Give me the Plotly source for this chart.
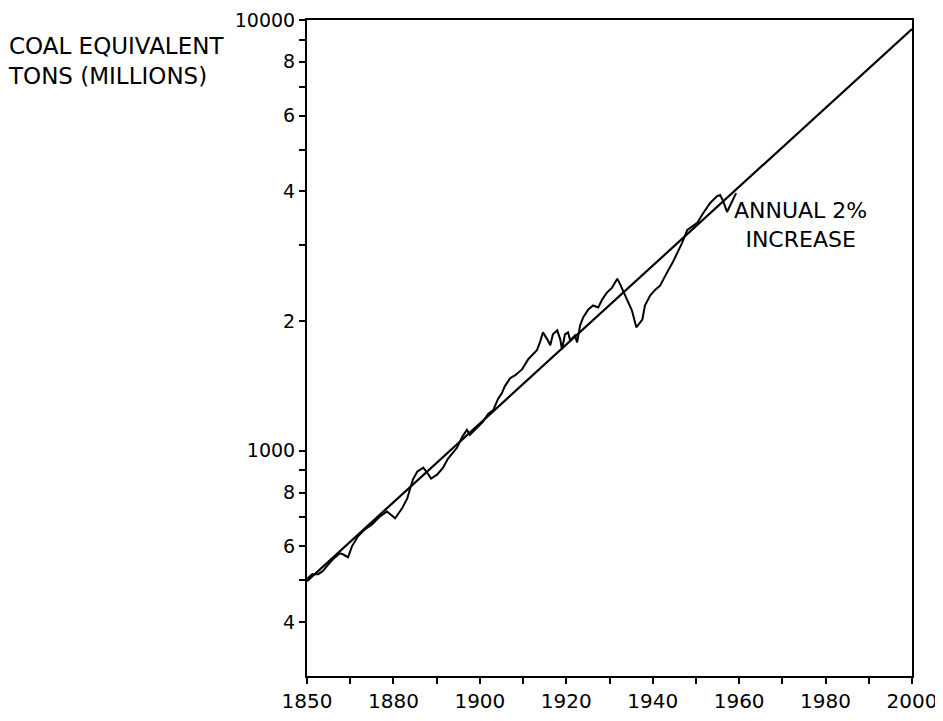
import plotly.graph_objects as go

years = [1860.0, 1861.2, 1862.6, 1863.7, 1864.6, 1866.0, 1867.6, 1868.3, 1869.5, 1870.4,
         1871.8, 1873.4, 1875.1, 1876.9, 1878.5, 1880.4, 1882.0, 1883.2, 1883.8, 1884.5,
         1885.5, 1886.9, 1887.8, 1888.7, 1890.1, 1891.5, 1892.6, 1893.6, 1894.7, 1895.9,
         1897.0, 1897.7, 1899.4, 1900.7, 1901.9, 1903.1, 1904.2, 1905.1, 1905.8, 1907.0,
         1908.2, 1909.8, 1911.2, 1912.3, 1913.2, 1913.9, 1914.6, 1915.6, 1916.3, 1916.9,
         1917.9, 1918.6, 1919.0, 1919.7, 1920.4, 1920.9, 1922.0, 1922.5, 1923.2, 1923.9,
         1925.1, 1926.2, 1927.4, 1928.3, 1929.4, 1930.6, 1931.8, 1932.5, 1933.6, 1934.3,
         1935.2, 1936.2, 1937.6, 1938.2, 1939.4, 1940.6, 1941.7, 1943.3, 1944.7, 1946.8,
         1948.0, 1948.7, 1950.3, 1951.7, 1953.3, 1954.9, 1955.6, 1956.3, 1957.2, 1958.2,
         1959.3]
energy = [504, 517, 517, 526, 540, 560, 578, 575, 566, 600,
          633, 657, 675, 704, 723, 697, 735, 775, 813, 857,
          894, 914, 890, 862, 880, 914, 958, 984, 1016, 1077,
          1118, 1089, 1136, 1167, 1218, 1243, 1319, 1361, 1413, 1474,
          1498, 1547, 1631, 1675, 1711, 1785, 1883, 1814, 1757, 1863,
          1903, 1814, 1720, 1863, 1883, 1804, 1853, 1785, 1954, 2039,
          2128, 2174, 2151, 2244, 2329, 2392, 2509, 2430, 2304, 2209,
          2116, 1934, 2017, 2174, 2293, 2366, 2417, 2591, 2747, 3038,
          3256, 3291, 3380, 3565, 3760, 3902, 3923, 3799, 3584, 3760,
          3965]

# 2% annual increase trend line (end points)
trend_years = [1860, 2000]
trend_values = [498, 9530]

y_tickvals = [400, 500, 600, 700, 800, 900, 1000, 2000, 3000, 4000, 5000,
              6000, 7000, 8000, 9000, 10000]
y_ticktext = ["4", "", "6", "", "8", "", "1000", "2", "", "4", "", "6", "",
              "8", "", "10000"]
x_tickvals = [1860, 1870, 1880, 1890, 1900, 1910, 1920, 1930, 1940, 1950,
              1960, 1970, 1980, 1990, 2000]
x_ticktext = ["1850", "", "1880", "", "1900", "", "1920", "", "1940", "",
              "1960", "", "1980", "", "2000"]

FONT = "DejaVu Sans"

fig = go.Figure()
fig.add_trace(go.Scatter(x=trend_years, y=trend_values, mode="lines",
                         line=dict(color="black", width=2.2),
                         showlegend=False, hoverinfo="skip"))
fig.add_trace(go.Scatter(x=years, y=energy, mode="lines",
                         line=dict(color="black", width=2),
                         showlegend=False))

fig.update_layout(
    width=943, height=721,
    margin=dict(l=299, r=39, t=12, b=53, autoexpand=False),
    paper_bgcolor="white", plot_bgcolor="white",
    font=dict(family=FONT, color="black", size=19),
    xaxis=dict(range=[1860, 2000], tickmode="array", tickvals=x_tickvals,
               ticktext=x_ticktext, ticks="outside", ticklen=6, tickwidth=1.5,
               tickcolor="black", showline=True, linecolor="black", linewidth=2,
               mirror=True, showgrid=False, zeroline=False, automargin=False,
               ticklabeloverflow="allow",
               tickfont=dict(family=FONT, size=20)),
    yaxis=dict(type="log", range=[2.4771, 4.0], tickmode="array",
               tickvals=y_tickvals, ticktext=y_ticktext, ticks="outside",
               ticklen=6, tickwidth=1.5, tickcolor="black", showline=True,
               linecolor="black", linewidth=2, mirror=True, showgrid=False,
               zeroline=False, automargin=False, ticklabeloverflow="allow",
               tickfont=dict(family=FONT, size=19)),
    annotations=[
        dict(text="COAL EQUIVALENT<br>TONS (MILLIONS)", xref="paper", yref="paper",
             x=-0.497, y=0.983, xanchor="left", yanchor="top", showarrow=False,
             align="left", font=dict(family=FONT, size=23)),
        dict(text="ANNUAL 2%<br>INCREASE", xref="paper", yref="paper",
             x=0.703, y=0.731, xanchor="left", yanchor="top", showarrow=False,
             align="center", font=dict(family=FONT, size=22)),
    ],
)

fig.write_html("out.html")
